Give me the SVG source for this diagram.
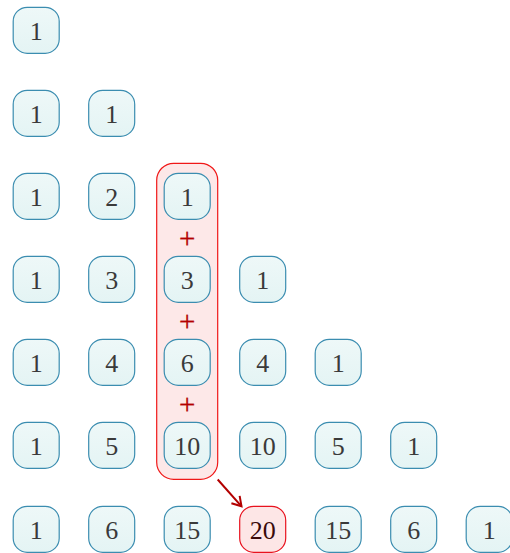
<svg xmlns="http://www.w3.org/2000/svg" width="510" height="553" viewBox="0 0 510 553">
<style>
.n rect{fill:url(#g);stroke:#3b8db0;stroke-width:1.2}
.n text{font-family:"Liberation Serif",serif;font-size:26px;fill:#3a3a3a;text-anchor:middle}
.hl rect{fill:#fde6e6;stroke:#e8121e;stroke-width:1.2}
.hl text{font-family:"Liberation Serif",serif;font-size:26px;fill:#3a0a0a;text-anchor:middle}
.p{font-family:"Liberation Serif",serif;font-size:29px;fill:#b30000;stroke:#b30000;stroke-width:0.3;text-anchor:middle}
</style>
<defs>
<linearGradient id="g" x1="0" y1="0" x2="0" y2="1"><stop offset="0" stop-color="#eef8f8"/><stop offset="1" stop-color="#e4f4f4"/></linearGradient>
<marker id="ah" markerWidth="14" markerHeight="14" refX="10" refY="7" orient="auto" markerUnits="userSpaceOnUse"><path d="M1,1.5 L10,7 L1,12.5" fill="none" stroke="#b30000" stroke-width="2"/></marker>
</defs>
<rect id="highlight" x="156.7" y="163.3" width="61" height="316" rx="17" fill="#fde8e8" stroke="#f01818" stroke-width="1.2"/>
<g id="nodes">
<g id="r0c0" class="n"><rect x="13.2" y="7.3" width="46" height="46" rx="14"/><text x="36.2" y="39.5">1</text></g>
<g id="r1c0" class="n"><rect x="13.2" y="90.3" width="46" height="46" rx="14"/><text x="36.2" y="122.5">1</text></g>
<g id="r1c1" class="n"><rect x="88.7" y="90.3" width="46" height="46" rx="14"/><text x="111.7" y="122.5">1</text></g>
<g id="r2c0" class="n"><rect x="13.2" y="173.3" width="46" height="46" rx="14"/><text x="36.2" y="205.5">1</text></g>
<g id="r2c1" class="n"><rect x="88.7" y="173.3" width="46" height="46" rx="14"/><text x="111.7" y="205.5">2</text></g>
<g id="r2c2" class="n"><rect x="164.2" y="173.3" width="46" height="46" rx="14"/><text x="187.2" y="205.5">1</text></g>
<g id="r3c0" class="n"><rect x="13.2" y="256.3" width="46" height="46" rx="14"/><text x="36.2" y="288.5">1</text></g>
<g id="r3c1" class="n"><rect x="88.7" y="256.3" width="46" height="46" rx="14"/><text x="111.7" y="288.5">3</text></g>
<g id="r3c2" class="n"><rect x="164.2" y="256.3" width="46" height="46" rx="14"/><text x="187.2" y="288.5">3</text></g>
<g id="r3c3" class="n"><rect x="239.7" y="256.3" width="46" height="46" rx="14"/><text x="262.7" y="288.5">1</text></g>
<g id="r4c0" class="n"><rect x="13.2" y="339.3" width="46" height="46" rx="14"/><text x="36.2" y="371.5">1</text></g>
<g id="r4c1" class="n"><rect x="88.7" y="339.3" width="46" height="46" rx="14"/><text x="111.7" y="371.5">4</text></g>
<g id="r4c2" class="n"><rect x="164.2" y="339.3" width="46" height="46" rx="14"/><text x="187.2" y="371.5">6</text></g>
<g id="r4c3" class="n"><rect x="239.7" y="339.3" width="46" height="46" rx="14"/><text x="262.7" y="371.5">4</text></g>
<g id="r4c4" class="n"><rect x="315.2" y="339.3" width="46" height="46" rx="14"/><text x="338.2" y="371.5">1</text></g>
<g id="r5c0" class="n"><rect x="13.2" y="422.3" width="46" height="46" rx="14"/><text x="36.2" y="454.5">1</text></g>
<g id="r5c1" class="n"><rect x="88.7" y="422.3" width="46" height="46" rx="14"/><text x="111.7" y="454.5">5</text></g>
<g id="r5c2" class="n"><rect x="164.2" y="422.3" width="46" height="46" rx="14"/><text x="187.2" y="454.5">10</text></g>
<g id="r5c3" class="n"><rect x="239.7" y="422.3" width="46" height="46" rx="14"/><text x="262.7" y="454.5">10</text></g>
<g id="r5c4" class="n"><rect x="315.2" y="422.3" width="46" height="46" rx="14"/><text x="338.2" y="454.5">5</text></g>
<g id="r5c5" class="n"><rect x="390.7" y="422.3" width="46" height="46" rx="14"/><text x="413.7" y="454.5">1</text></g>
<g id="r6c0" class="n"><rect x="13.2" y="506.3" width="46" height="46" rx="14"/><text x="36.2" y="538.5">1</text></g>
<g id="r6c1" class="n"><rect x="88.7" y="506.3" width="46" height="46" rx="14"/><text x="111.7" y="538.5">6</text></g>
<g id="r6c2" class="n"><rect x="164.2" y="506.3" width="46" height="46" rx="14"/><text x="187.2" y="538.5">15</text></g>
<g id="r6c3" class="hl"><rect x="239.7" y="506.3" width="46" height="46" rx="14"/><text x="262.7" y="538.5">20</text></g>
<g id="r6c4" class="n"><rect x="315.2" y="506.3" width="46" height="46" rx="14"/><text x="338.2" y="538.5">15</text></g>
<g id="r6c5" class="n"><rect x="390.7" y="506.3" width="46" height="46" rx="14"/><text x="413.7" y="538.5">6</text></g>
<g id="r6c6" class="n"><rect x="466.2" y="506.3" width="46" height="46" rx="14"/><text x="489.2" y="538.5">1</text></g>
</g>
<g id="pluses">
<text class="p" x="187.2" y="248">+</text>
<text class="p" x="187.2" y="331">+</text>
<text class="p" x="187.2" y="414">+</text>
</g>
<g id="connectors">
<line x1="217.7" y1="479.5" x2="241.5" y2="506.3" stroke="#b30000" stroke-width="2" marker-end="url(#ah)"/>
</g>
</svg>
